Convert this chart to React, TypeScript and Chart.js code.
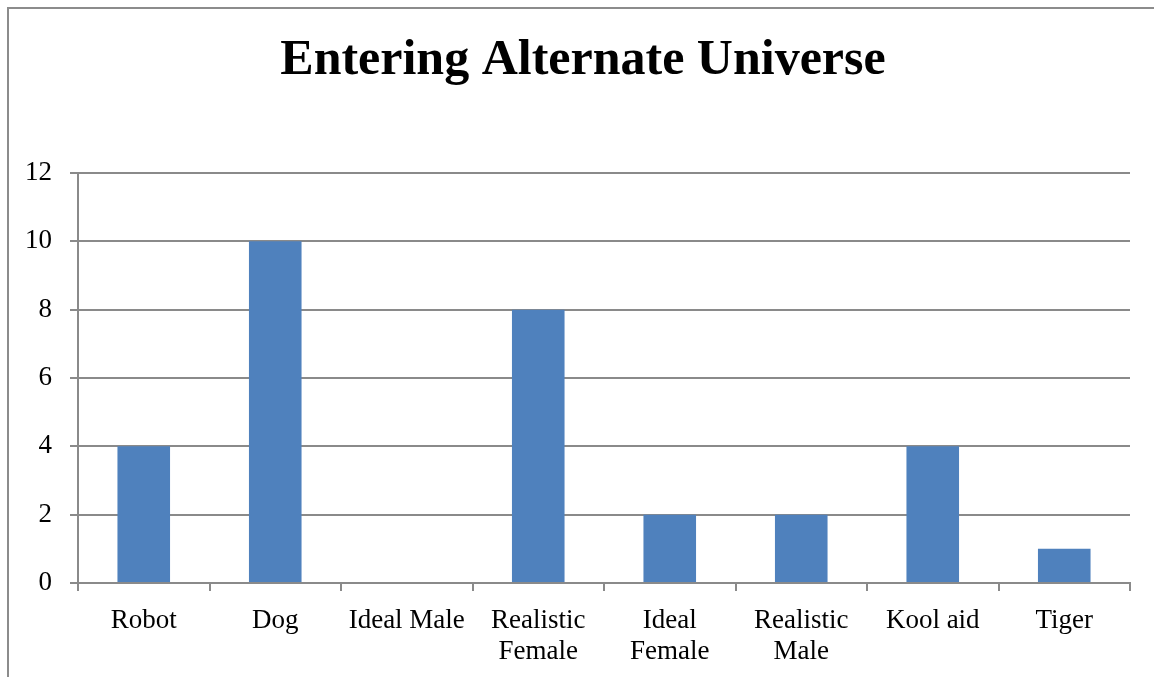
import React, { useEffect, useRef } from "react";
import { Chart, registerables } from "chart.js";

Chart.register(...registerables);

const categories: (string | string[])[] = [
  "Robot",
  "Dog",
  "Ideal Male",
  ["Realistic", "Female"],
  ["Ideal", "Female"],
  ["Realistic", "Male"],
  "Kool aid",
  "Tiger",
];
const values: number[] = [4, 10, 0, 8, 2, 2, 4, 1];
const titleText = "Entering Alternate Universe";
const yMax = 12;
const yStep = 2;

const FONT = "'Liberation Serif', 'DejaVu Serif', serif";
const GRID = "#8a8a8a";

const frame = {
  id: "frame",
  beforeDraw(chart: any) {
    const ctx = chart.ctx;
    ctx.save();
    ctx.fillStyle = "#ffffff";
    ctx.fillRect(0, 0, chart.width, chart.height);
    ctx.strokeStyle = "#8c8c8c";
    ctx.lineWidth = 2;
    ctx.beginPath();
    ctx.moveTo(8, chart.height);
    ctx.lineTo(8, 8);
    ctx.lineTo(chart.width, 8);
    ctx.stroke();
    // chart title, centred on the whole (uncropped) chart frame
    ctx.fillStyle = "#000";
    ctx.font = `bold 50px ${FONT}`;
    ctx.textAlign = "center";
    ctx.textBaseline = "alphabetic";
    ctx.fillText(titleText, 583, 74);
    ctx.restore();
  },
};

export default function App() {
  const ref = useRef<HTMLCanvasElement>(null);
  useEffect(() => {
    document.body.style.margin = "0";
    const chart = new Chart(ref.current!, {
      type: "bar",
      data: {
        labels: categories,
        datasets: [
          {
            data: values,
            backgroundColor: "#4F81BD",
            borderWidth: 0,
            barPercentage: 0.4,
            categoryPercentage: 1,
          },
        ],
      },
      plugins: [frame],
      options: {
        responsive: false,
        animation: false,
        devicePixelRatio: 1,
        layout: { padding: { left: 0, right: 24, top: 173, bottom: 0 } },
        plugins: {
          legend: { display: false },
          tooltip: { enabled: false },
          title: { display: false },
        },
        scales: {
          x: {
            offset: true,
            grid: {
              offset: true,
              drawOnChartArea: false,
              drawTicks: true,
              tickLength: 8,
              color: GRID,
              lineWidth: 2,
            },
            border: { color: GRID, width: 2 },
            ticks: {
              color: "#000",
              font: { family: FONT, size: 27, lineHeight: 1.15 },
              padding: 14,
              maxRotation: 0,
              autoSkip: false,
            },
            afterFit(scale: any) {
              scale.height = 94;
            },
          },
          y: {
            min: 0,
            max: yMax,
            grid: {
              color: GRID,
              lineWidth: 2,
              drawTicks: true,
              tickLength: 8,
            },
            border: { color: GRID, width: 2 },
            ticks: {
              stepSize: yStep,
              color: "#000",
              font: { family: FONT, size: 27 },
              padding: 18,
            },
            afterFit(scale: any) {
              scale.width = 78;
            },
          },
        },
      },
    });
    return () => chart.destroy();
  }, []);
  return (
    <div style={{ width: 1154, height: 677, overflow: "hidden" }}>
      <canvas ref={ref} width={1154} height={677} />
    </div>
  );
}
